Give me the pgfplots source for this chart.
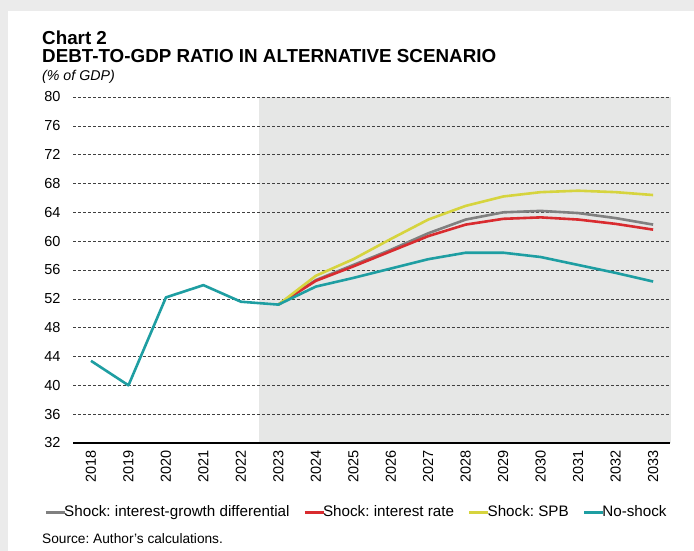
\documentclass[border=0pt]{standalone}
\usepackage{pgfplots}
\pgfplotsset{compat=1.18}
\usepackage{fontspec}
\setmainfont{Liberation Sans}
\frenchspacing
\definecolor{cgray}{HTML}{808080}
\definecolor{cred}{HTML}{D92B2F}
\definecolor{cyellow}{HTML}{D6D43E}
\definecolor{cteal}{HTML}{1E9EA2}
\definecolor{cshade}{HTML}{E6E7E6}
\definecolor{cframe}{HTML}{EBEBEB}
\begin{document}
\begin{tikzpicture}
\fill[cframe] (0bp,0bp) rectangle (694bp,-551bp);
\fill[white] (8bp,-11bp) rectangle (694bp,-551bp);
\fill[cshade] (259bp,-443bp) rectangle (671bp,-97bp);
\node[anchor=base west, inner sep=0pt, font=\bfseries\fontsize{18.8bp}{20bp}\selectfont] at (42bp,-44.5bp) {Chart 2};
\node[anchor=base west, inner sep=0pt, font=\bfseries\fontsize{18.8bp}{20bp}\selectfont] at (42bp,-62.5bp) {DEBT-TO-GDP RATIO IN ALTERNATIVE SCENARIO};
\node[anchor=base west, inner sep=0pt, font=\itshape\fontsize{14.2bp}{16bp}\selectfont] at (42bp,-80bp) {(\% of GDP)};
\node[anchor=base west, inner sep=0pt, font=\fontsize{13.7bp}{15bp}\selectfont] at (42bp,-543bp) {Source: Author's calculations.};
\begin{axis}[
  at={(73bp,-443bp)}, anchor=south west,
  scale only axis, width=597bp, height=346bp,
  xmin=2017.52, xmax=2033.45, ymin=32, ymax=80,
  xtick={2018,...,2033}, ytick={32,36,...,80},
  x tick label style={rotate=90, anchor=east, font=\fontsize{14.5bp}{16bp}\selectfont},
  y tick label style={font=\fontsize{14.5bp}{16bp}\selectfont},
  /pgf/number format/assume math mode=true,
  /pgf/number format/1000 sep={},
  major tick length=0pt,
  axis x line*=bottom, axis y line*=left,
  x axis line style={black, line width=1.6bp, -},
  y axis line style={draw=none},
  ymajorgrids,
  grid style={densely dashed, black!75, line width=0.6bp},
  xticklabel style={xshift=-4bp},
  yticklabel style={xshift=-9bp},
  every axis plot/.append style={line width=2.6bp, line join=round},
  legend style={at={(0.475,-0.2)}, anchor=center, draw=none, fill=none,
    legend columns=4, font=\fontsize{15.2bp}{17bp}\selectfont,
    /tikz/every even column/.append style={column sep=12bp},
    inner sep=0pt},
  legend image code/.code={\draw[#1, line width=2.6bp] (0bp,0bp) -- (19bp,0bp);},
  legend cell align=left,
]
\addplot[cgray] coordinates {(2023,51.2)(2024,54.6)(2025,56.7)(2026,58.8)(2027,61.1)(2028,63.0)(2029,64.0)(2030,64.2)(2031,63.9)(2032,63.2)(2033,62.3)};
\addlegendentry{\hspace{-4bp}Shock: interest-growth differential}
\addplot[cred] coordinates {(2023,51.2)(2024,54.5)(2025,56.5)(2026,58.6)(2027,60.7)(2028,62.3)(2029,63.1)(2030,63.3)(2031,63.0)(2032,62.4)(2033,61.6)};
\addlegendentry{\hspace{-4bp}Shock: interest rate}
\addplot[cyellow] coordinates {(2023,51.2)(2024,55.2)(2025,57.5)(2026,60.3)(2027,63.0)(2028,64.9)(2029,66.2)(2030,66.8)(2031,67.0)(2032,66.8)(2033,66.4)};
\addlegendentry{\hspace{-4bp}Shock: SPB}
\addplot[cteal] coordinates {(2018,43.4)(2019,40.0)(2020,52.2)(2021,53.9)(2022,51.6)(2023,51.2)(2024,53.7)(2025,54.9)(2026,56.2)(2027,57.5)(2028,58.4)(2029,58.4)(2030,57.8)(2031,56.7)(2032,55.6)(2033,54.4)};
\addlegendentry{\hspace{-4bp}No-shock}
\end{axis}
\end{tikzpicture}
\end{document}
